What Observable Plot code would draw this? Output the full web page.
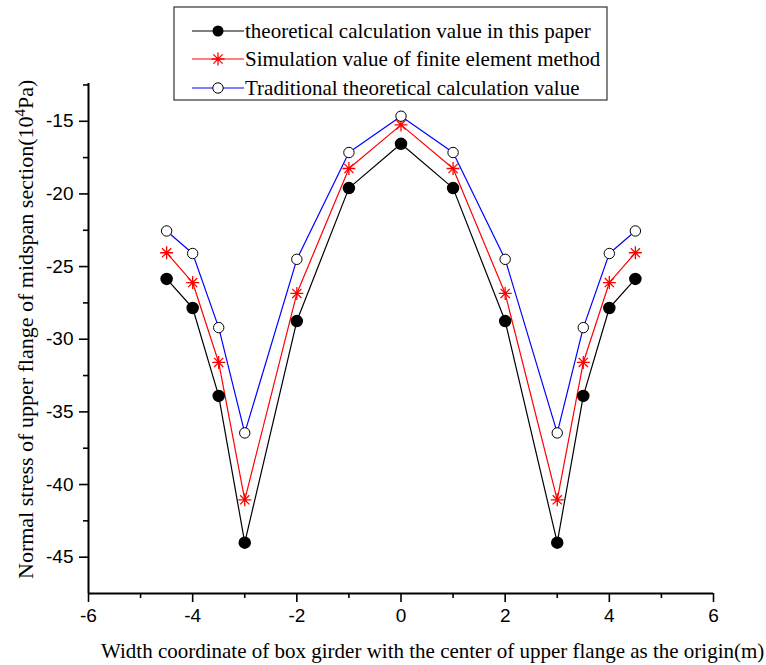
<!DOCTYPE html>
<html>
<head>
<meta charset="utf-8">
<script src="https://cdn.jsdelivr.net/npm/d3@7"></script>
<script src="https://cdn.jsdelivr.net/npm/@observablehq/plot@0.6"></script>
<style>
  body { margin: 0; background: #fff; }
  #chart { position: relative; width: 766px; height: 665px; }
</style>
</head>
<body>
<div id="chart"></div>
<script>
const xs = [-4.5, -4, -3.5, -3, -2, -1, 0, 1, 2, 3, 3.5, 4, 4.5];
const paper = [-25.85, -27.85, -33.9, -44.0, -28.75, -19.6, -16.55, -19.6, -28.75, -44.0, -33.9, -27.85, -25.85];
const fem   = [-24.05, -26.1, -31.6, -41.05, -26.85, -18.25, -15.25, -18.25, -26.85, -41.05, -31.6, -26.1, -24.05];
const trad  = [-22.55, -24.1, -29.2, -36.45, -24.5, -17.15, -14.65, -17.15, -24.5, -36.45, -29.2, -24.1, -22.55];
const seriesNames = [
  "theoretical calculation value in this paper",
  "Simulation value of finite element method",
  "Traditional theoretical calculation value"
];
const xTicks = [-6, -4, -2, 0, 2, 4, 6];
const xMinor = [-5, -3, -1, 1, 3, 5];
const yTicks = [-45, -40, -35, -30, -25, -20, -15];
const yMinor = [-42.5, -37.5, -32.5, -27.5, -22.5, -17.5, -12.5];
const xTitle = "Width coordinate of box girder with the center of upper flange as the origin(m)";
const yTitleA = "Normal stress of upper flange of midspan section(10";
const yTitleSup = "4";
const yTitleB = "Pa)";

const xDomain = [-6, 6];
const yDomain = [-47.5, -12.4];

const rows = xs.map((x, i) => ({x, paper: paper[i], fem: fem[i], trad: trad[i]}));

const star8 = {
  draw(ctx, size) {
    const r = Math.sqrt(size / Math.PI);
    for (let k = 0; k < 4; k++) {
      const a = k * Math.PI / 4;
      ctx.moveTo(r * Math.cos(a), r * Math.sin(a));
      ctx.lineTo(-r * Math.cos(a), -r * Math.sin(a));
    }
  }
};

const fmt = d => String(d);

const plot = Plot.plot({
  width: 766,
  height: 665,
  marginLeft: 88,
  marginRight: 53,
  marginTop: 83,
  marginBottom: 72,
  style: {fontFamily: "'Liberation Sans', Arial, sans-serif", fontSize: "19px", color: "#000", background: "#fff"},
  x: {domain: xDomain},
  y: {domain: yDomain},
  marks: [
    Plot.axisX({ticks: xTicks, tickSize: 9, tickPadding: 6, tickFormat: fmt, label: null, strokeWidth: 1.6}),
    Plot.axisX({ticks: xMinor, tickSize: 5, text: null, label: null, strokeWidth: 1.6}),
    Plot.axisY({ticks: yTicks, tickSize: 9, tickPadding: 6, tickFormat: fmt, label: null, strokeWidth: 1.6}),
    Plot.axisY({ticks: yMinor, tickSize: 5, text: null, label: null, strokeWidth: 1.6}),
    Plot.ruleX([xDomain[0]], {strokeWidth: 2}),
    Plot.ruleY([yDomain[0]], {strokeWidth: 2}),
    Plot.line(rows, {x: "x", y: "paper", stroke: "#000", strokeWidth: 1.2}),
    Plot.line(rows, {x: "x", y: "fem", stroke: "#ff0000", strokeWidth: 1.2}),
    Plot.line(rows, {x: "x", y: "trad", stroke: "#0000ff", strokeWidth: 1.2}),
    Plot.dot(rows, {x: "x", y: "paper", r: 5.5, fill: "#000", stroke: "#000"}),
    Plot.dot(rows, {x: "x", y: "fem", r: 6.5, symbol: star8, fill: "none", stroke: "#ff0000", strokeWidth: 1.3}),
    Plot.dot(rows, {x: "x", y: "trad", r: 5.2, fill: "#fff", stroke: "#000", strokeWidth: 1})
  ]
});

document.getElementById("chart").appendChild(plot);

const svg = d3.select(plot);
const serif = "'Liberation Serif', 'Times New Roman', serif";

// axis titles
svg.append("text")
  .attr("x", 101).attr("y", 658).attr("text-anchor", "start")
  .attr("font-family", serif).attr("font-size", 21).attr("fill", "#000")
  .text(xTitle);

const yt = svg.append("text")
  .attr("transform", "translate(33,579) rotate(-90)").attr("text-anchor", "start")
  .attr("font-family", serif).attr("font-size", 22).attr("fill", "#000");
yt.append("tspan").text(yTitleA);
yt.append("tspan").attr("dy", -8).attr("font-size", 15).text(yTitleSup);
yt.append("tspan").attr("dy", 8).text(yTitleB);

// legend
const lg = svg.append("g");
lg.append("rect").attr("x", 174).attr("y", 7).attr("width", 433).attr("height", 93)
  .attr("fill", "#fff").attr("stroke", "#333").attr("stroke-width", 1.2);
const colors = ["#000", "#ff0000", "#0000ff"];
const rowY = [31, 59, 88];
seriesNames.forEach((name, i) => {
  const y = rowY[i];
  lg.append("line").attr("x1", 192).attr("x2", 244).attr("y1", y).attr("y2", y)
    .attr("stroke", colors[i]).attr("stroke-width", 1.2);
  if (i === 0) {
    lg.append("circle").attr("cx", 218).attr("cy", y).attr("r", 5.5).attr("fill", "#000");
  } else if (i === 1) {
    const p = d3.path();
    star8.draw(p, Math.PI * 6.5 * 6.5);
    lg.append("path").attr("transform", `translate(218,${y})`).attr("d", p.toString())
      .attr("stroke", "#ff0000").attr("stroke-width", 1.3).attr("fill", "none");
  } else {
    lg.append("circle").attr("cx", 218).attr("cy", y).attr("r", 5.2).attr("fill", "#fff")
      .attr("stroke", "#000").attr("stroke-width", 1);
  }
  lg.append("text").attr("x", 245).attr("y", y + 7).attr("text-anchor", "start")
    .attr("font-family", serif).attr("font-size", 21).attr("fill", "#000")
    .text(name);
});
</script>
</body>
</html>
